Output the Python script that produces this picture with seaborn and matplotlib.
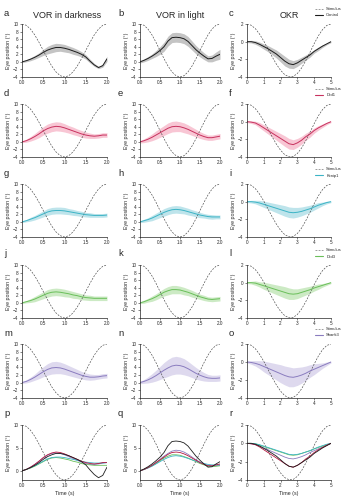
import numpy as np
import matplotlib
matplotlib.use("Agg")
import matplotlib.pyplot as plt
import seaborn as sns
from matplotlib.lines import Line2D

sns.set_style("ticks")
plt.rcParams['font.family'] = ['Liberation Sans', 'DejaVu Sans']

# ---------------- data ----------------
t_vor = [0.0, 0.1, 0.2, 0.3, 0.4, 0.5, 0.6, 0.7, 0.8, 0.9, 1.0,
         1.1, 1.2, 1.3, 1.4, 1.5, 1.6, 1.7, 1.8, 1.9, 2.0]
t_okr = [0.0, 0.25, 0.5, 0.75, 1.0, 1.25, 1.5, 1.75, 2.0, 2.25, 2.5,
         2.75, 3.0, 3.25, 3.5, 3.75, 4.0, 4.25, 4.5, 4.75, 5.0]

stim_vor = [10, 9.66, 8.66, 7.11, 5.16, 3.0, 0.84, -1.11, -2.66, -3.66, -4.0,
            -3.66, -2.66, -1.11, 0.84, 3.0, 5.16, 7.11, 8.66, 9.66, 10]
stim_vor_overlay = [10, 9.71, 8.85, 7.53, 5.85, 4.0, 2.15, 0.47, -0.85, -1.71, -2.0,
                    -1.71, -0.85, 0.47, 2.15, 4.0, 5.85, 7.53, 8.85, 9.71, 10]
stim_okr = [2.0, 1.86, 1.47, 0.85, 0.06, -0.82, -1.72, -2.55, -3.24, -3.74, -3.98,
            -3.94, -3.60, -2.98, -2.15, -1.20, -0.22, 0.67, 1.38, 1.84, 2.0]

groups = ["Control", "Drd1", "Kcnip1", "Drd3", "Shank3"]

dark_mean = {
    "Control": [0, 0.3, 0.7, 1.2, 1.8, 2.5, 3.1, 3.5, 3.8, 3.8, 3.6, 3.3, 2.9, 2.5, 2.0, 1.3, 0.2, -0.8, -1.5, -1.0, 0.8],
    "Drd1":    [0, 0.3, 0.8, 1.4, 2.1, 2.9, 3.5, 3.9, 4.1, 4.0, 3.7, 3.3, 2.9, 2.5, 2.1, 1.8, 1.6, 1.5, 1.6, 1.8, 1.8],
    "Kcnip1":  [0, 0.3, 0.7, 1.1, 1.6, 2.1, 2.6, 2.9, 3.0, 3.0, 2.9, 2.7, 2.5, 2.3, 2.1, 1.9, 1.8, 1.7, 1.7, 1.7, 1.8],
    "Drd3":    [0, 0.3, 0.6, 1.0, 1.5, 2.0, 2.5, 2.8, 2.9, 2.8, 2.6, 2.4, 2.1, 1.9, 1.6, 1.4, 1.3, 1.2, 1.2, 1.2, 1.2],
    "Shank3":  [0, 0.3, 0.8, 1.4, 2.1, 2.8, 3.4, 3.8, 3.9, 3.8, 3.5, 3.1, 2.7, 2.3, 1.9, 1.6, 1.4, 1.4, 1.5, 1.7, 1.8],
}
dark_sd = {
    "Control": [0.2, 0.3, 0.4, 0.5, 0.6, 0.8, 1.0, 1.1, 1.1, 1.0, 1.0, 0.9, 0.9, 0.8, 0.7, 0.6, 0.5, 0.4, 0.3, 0.4, 0.7],
    "Drd1":    [0.2, 0.4, 0.6, 0.8, 1.0, 1.1, 1.2, 1.2, 1.2, 1.2, 1.1, 1.0, 1.0, 0.9, 0.9, 0.8, 0.7, 0.6, 0.6, 0.6, 0.6],
    "Kcnip1":  [0.2, 0.3, 0.5, 0.6, 0.7, 0.8, 0.9, 0.9, 0.9, 0.9, 0.9, 0.8, 0.8, 0.7, 0.7, 0.6, 0.6, 0.5, 0.5, 0.5, 0.5],
    "Drd3":    [0.2, 0.3, 0.5, 0.7, 0.8, 0.9, 1.0, 1.0, 1.0, 1.0, 1.0, 0.9, 0.9, 0.8, 0.8, 0.7, 0.7, 0.6, 0.6, 0.6, 0.6],
    "Shank3":  [0.2, 0.4, 0.6, 0.8, 1.1, 1.3, 1.5, 1.6, 1.6, 1.5, 1.4, 1.3, 1.2, 1.1, 1.0, 0.9, 0.8, 0.7, 0.6, 0.6, 0.6],
}
light_mean = {
    "Control": [0, 0.4, 0.9, 1.5, 2.2, 3.0, 4.0, 5.5, 6.4, 6.5, 6.4, 6.1, 5.4, 4.3, 3.2, 2.3, 1.5, 0.8, 0.9, 1.5, 2.0],
    "Drd1":    [0, 0.3, 0.7, 1.2, 1.8, 2.4, 3.0, 3.6, 4.0, 4.1, 4.0, 3.7, 3.3, 2.8, 2.3, 1.8, 1.4, 1.1, 1.1, 1.3, 1.5],
    "Kcnip1":  [0, 0.3, 0.6, 1.0, 1.5, 2.0, 2.5, 2.9, 3.2, 3.3, 3.2, 3.0, 2.7, 2.4, 2.1, 1.8, 1.6, 1.4, 1.3, 1.3, 1.3],
    "Drd3":    [0, 0.3, 0.7, 1.1, 1.6, 2.2, 2.8, 3.2, 3.5, 3.5, 3.4, 3.1, 2.8, 2.4, 2.0, 1.6, 1.3, 1.0, 0.9, 1.0, 1.1],
    "Shank3":  [0, 0.3, 0.7, 1.2, 1.8, 2.5, 3.2, 3.8, 4.3, 4.5, 4.4, 4.1, 3.6, 3.0, 2.4, 1.9, 1.5, 1.2, 1.1, 1.1, 1.2],
}
light_sd = {
    "Control": [0.3, 0.4, 0.5, 0.6, 0.8, 1.0, 1.2, 1.3, 1.3, 1.3, 1.3, 1.3, 1.3, 1.2, 1.1, 1.0, 0.9, 0.8, 0.9, 1.1, 1.3],
    "Drd1":    [0.3, 0.5, 0.7, 0.9, 1.1, 1.2, 1.3, 1.4, 1.4, 1.4, 1.3, 1.3, 1.2, 1.1, 1.0, 0.9, 0.8, 0.7, 0.7, 0.7, 0.7],
    "Kcnip1":  [0.2, 0.4, 0.5, 0.7, 0.8, 0.9, 1.0, 1.0, 1.0, 1.0, 1.0, 0.9, 0.9, 0.8, 0.8, 0.7, 0.6, 0.6, 0.6, 0.5, 0.5],
    "Drd3":    [0.2, 0.4, 0.5, 0.7, 0.8, 0.9, 1.0, 1.1, 1.1, 1.1, 1.0, 1.0, 0.9, 0.9, 0.8, 0.7, 0.7, 0.6, 0.6, 0.6, 0.6],
    "Shank3":  [0.3, 0.5, 0.8, 1.1, 1.4, 1.7, 2.0, 2.2, 2.3, 2.3, 2.2, 2.1, 1.9, 1.7, 1.5, 1.3, 1.1, 0.9, 0.8, 0.8, 0.8],
}
okr_mean = {
    "Control": [0, 0, -0.1, -0.3, -0.55, -0.8, -1.1, -1.4, -1.8, -2.2, -2.5, -2.6, -2.4, -2.1, -1.8, -1.5, -1.1, -0.8, -0.5, -0.25, 0],
    "Drd1":    [0, -0.05, -0.15, -0.4, -0.7, -1.0, -1.3, -1.6, -1.9, -2.2, -2.5, -2.6, -2.4, -2.1, -1.7, -1.4, -1.0, -0.7, -0.45, -0.2, 0],
    "Kcnip1":  [0, 0, -0.05, -0.15, -0.3, -0.45, -0.6, -0.75, -0.9, -1.05, -1.2, -1.25, -1.2, -1.1, -0.95, -0.8, -0.6, -0.4, -0.25, -0.1, 0],
    "Drd3":    [0, 0, -0.05, -0.2, -0.35, -0.5, -0.65, -0.8, -0.95, -1.1, -1.25, -1.3, -1.25, -1.1, -0.95, -0.8, -0.6, -0.45, -0.3, -0.15, 0],
    "Shank3":  [0, -0.05, -0.15, -0.3, -0.5, -0.7, -0.9, -1.1, -1.3, -1.5, -1.65, -1.7, -1.6, -1.45, -1.25, -1.0, -0.8, -0.6, -0.4, -0.2, 0],
}
okr_sd = {
    "Control": [0.1, 0.15, 0.2, 0.25, 0.3, 0.35, 0.4, 0.45, 0.5, 0.55, 0.5, 0.45, 0.4, 0.35, 0.3, 0.25, 0.2, 0.2, 0.15, 0.1, 0.1],
    "Drd1":    [0.1, 0.15, 0.2, 0.3, 0.35, 0.4, 0.45, 0.5, 0.55, 0.6, 0.6, 0.55, 0.5, 0.45, 0.4, 0.35, 0.3, 0.25, 0.2, 0.15, 0.1],
    "Kcnip1":  [0.1, 0.15, 0.2, 0.3, 0.35, 0.4, 0.45, 0.5, 0.55, 0.6, 0.6, 0.6, 0.55, 0.5, 0.45, 0.4, 0.35, 0.3, 0.2, 0.15, 0.1],
    "Drd3":    [0.1, 0.15, 0.25, 0.3, 0.4, 0.45, 0.5, 0.55, 0.6, 0.65, 0.65, 0.6, 0.55, 0.5, 0.45, 0.4, 0.35, 0.3, 0.2, 0.15, 0.1],
    "Shank3":  [0.1, 0.2, 0.3, 0.45, 0.6, 0.7, 0.8, 0.9, 1.0, 1.05, 1.1, 1.05, 1.0, 0.9, 0.8, 0.7, 0.6, 0.45, 0.3, 0.2, 0.1],
}

line_colors = {"Control": "#1c1c1c", "Drd1": "#c8325f", "Kcnip1": "#3cb4c6",
               "Drd3": "#6abf5a", "Shank3": "#8a7cbf"}
band_colors = {"Control": "#b0b0b0", "Drd1": "#f6b3c6", "Kcnip1": "#a8dce5",
               "Drd3": "#bce3b1", "Shank3": "#d3cde9"}
overlay_colors = {"Control": "#1c1c1c", "Drd1": "#b5173f", "Kcnip1": "#3cb4c6",
                  "Drd3": "#6abf5a", "Shank3": "#8a7cbf"}

letters = list("abcdefghijklmnopqr")

# ---------------- layout ----------------
W, H = 348, 500
fig = plt.figure(figsize=(W / 100, H / 100), dpi=100)
cols = [(22, 107), (140, 220), (247, 331)]
rows = [(24, 77), (104, 157), (184, 237), (265, 318), (344, 398), (425, 480)]
FS_TICK = 3.3
FS_LAB = 3.8


def make_ax(r, c):
    x0, x1 = cols[c]
    y0, y1 = rows[r]
    ax = fig.add_axes([x0 / W, 1 - y1 / H, (x1 - x0) / W, (y1 - y0) / H])
    for s in ["left", "bottom"]:
        ax.spines[s].set_linewidth(0.5)
        ax.spines[s].set_color("#222222")
    sns.despine(ax=ax)
    ax.tick_params(axis="both", labelsize=FS_TICK, length=1.5, width=0.4, pad=1)
    ax.set_ylabel("Eye position (°)", fontsize=FS_LAB, labelpad=1.5)
    ax.set_xlabel("")
    return ax


def stim_line(ax, t, s):
    sns.lineplot(x=t, y=s, ax=ax, color="#444444", linewidth=0.45,
                 linestyle=(0, (3, 2)), errorbar=None)


def mean_band(ax, t, m, sd, lc, bc, band=True, lw=0.7):
    m = np.asarray(m, float)
    sd = np.asarray(sd, float)
    if band:
        ax.fill_between(t, m - sd, m + sd, color=bc, alpha=0.75, linewidth=0)
    sns.lineplot(x=t, y=m, ax=ax, color=lc, linewidth=lw, errorbar=None)


def vor_axes(ax, ylim=(-4, 10), yticks=(-4, -2, 0, 2, 4, 6, 8, 10)):
    ax.set_xlim(0, 2.0)
    ax.set_ylim(*ylim)
    ax.set_xticks([0.0, 0.5, 1.0, 1.5, 2.0])
    ax.set_xticklabels(["0.0", "0.5", "1.0", "1.5", "2.0"])
    ax.set_yticks(list(yticks))


def okr_axes(ax):
    ax.set_xlim(0, 5)
    ax.set_ylim(-4, 2)
    ax.set_xticks([0, 1, 2, 3, 4, 5])
    ax.set_yticks([-4, -2, 0, 2])


for r, g in enumerate(groups):
    # VOR in darkness
    ax = make_ax(r, 0)
    stim_line(ax, t_vor, stim_vor)
    mean_band(ax, t_vor, dark_mean[g], dark_sd[g], line_colors[g], band_colors[g])
    vor_axes(ax)
    # VOR in light
    ax = make_ax(r, 1)
    stim_line(ax, t_vor, stim_vor)
    mean_band(ax, t_vor, light_mean[g], light_sd[g], line_colors[g], band_colors[g])
    vor_axes(ax)
    # OKR
    ax = make_ax(r, 2)
    stim_line(ax, t_okr, stim_okr)
    mean_band(ax, t_okr, okr_mean[g], okr_sd[g], line_colors[g], band_colors[g])
    okr_axes(ax)
    handles = [Line2D([], [], color="#666666", lw=0.45, ls=(0, (3, 2))),
               Line2D([], [], color=line_colors[g], lw=0.8)]
    y_top = rows[r][0]
    ax.legend(handles, ["Stimulus", g], loc="upper right", frameon=False,
              fontsize=3.0, handlelength=1.8, handletextpad=0.8, labelspacing=0.6,
              bbox_to_anchor=((W - 6) / W, 1 - (y_top - 17) / H),
              bbox_transform=fig.transFigure, borderaxespad=0, borderpad=0)

# overlay row
ax_p = make_ax(5, 0)
stim_line(ax_p, t_vor, stim_vor_overlay)
for g in groups[::-1]:
    mean_band(ax_p, t_vor, dark_mean[g], dark_sd[g], overlay_colors[g], None, band=False, lw=0.6)
vor_axes(ax_p, ylim=(-2, 10), yticks=(0, 5, 10))

ax_q = make_ax(5, 1)
stim_line(ax_q, t_vor, stim_vor_overlay)
for g in groups[::-1]:
    mean_band(ax_q, t_vor, light_mean[g], light_sd[g], overlay_colors[g], None, band=False, lw=0.6)
vor_axes(ax_q, ylim=(-2, 10), yticks=(0, 5, 10))

ax_r = make_ax(5, 2)
stim_line(ax_r, t_okr, stim_okr)
for g in groups[::-1]:
    mean_band(ax_r, t_okr, okr_mean[g], okr_sd[g], overlay_colors[g], None, band=False, lw=0.6)
okr_axes(ax_r)

for a in (ax_p, ax_q, ax_r):
    a.set_xlabel("Time (s)", fontsize=FS_LAB, labelpad=1.5)

# titles
fig.text(67 / W, 1 - 15 / H, "VOR in darkness", ha="center", va="center", fontsize=6.5)
fig.text(180 / W, 1 - 15 / H, "VOR in light", ha="center", va="center", fontsize=6.5)
fig.text(289 / W, 1 - 15 / H, "OKR", ha="center", va="center", fontsize=6.5)

# panel letters
col_x = [4, 118, 229]
k = 0
for r in range(6):
    for c in range(3):
        fig.text(col_x[c] / W, 1 - (rows[r][0] - 11) / H, letters[k],
                 ha="left", va="center", fontsize=6.8)
        k += 1

fig.savefig("out.png", dpi=100)
